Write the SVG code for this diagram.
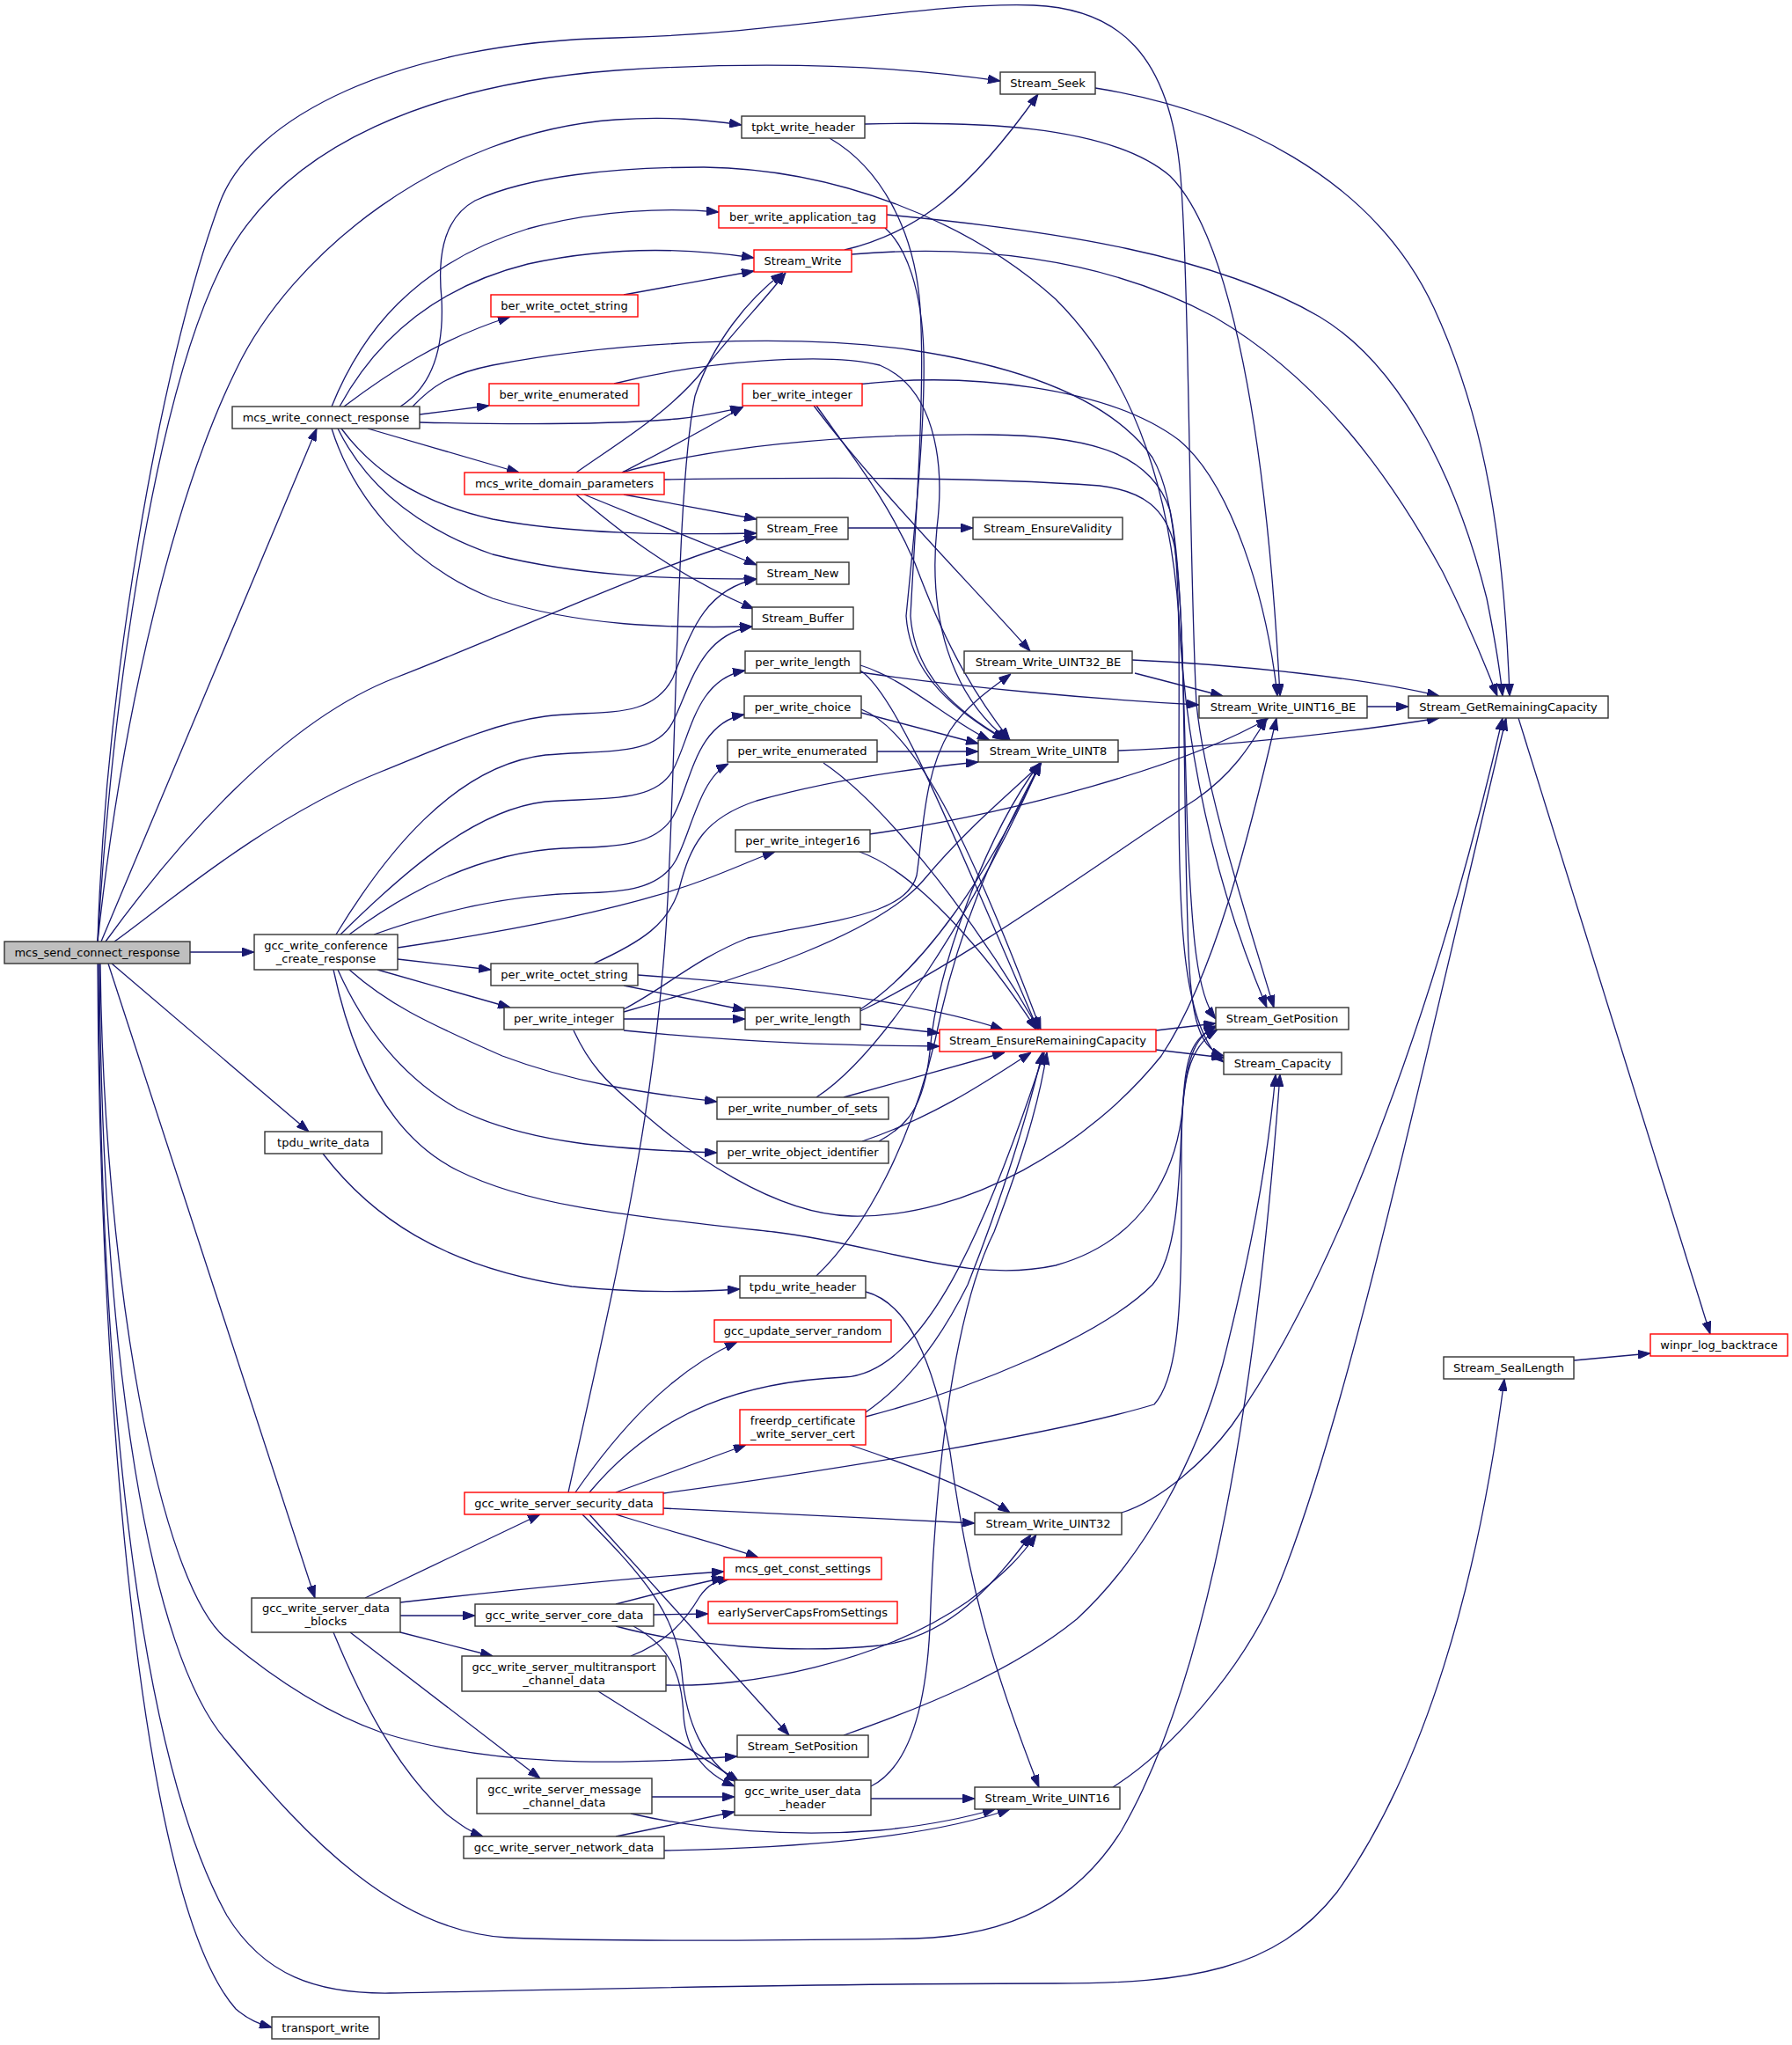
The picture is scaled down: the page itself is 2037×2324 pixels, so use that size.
<svg xmlns="http://www.w3.org/2000/svg" width="2037" height="2324" viewBox="0 0 2037 2324">
<style>
.node rect{fill:#ffffff;stroke:#333333;stroke-width:1.4}
.node.red rect{stroke:#ff0000}
.node.gray rect{fill:#bfbfbf}
.node text{font-family:"DejaVu Sans","Liberation Sans",sans-serif;font-size:13px;text-anchor:middle;fill:#000000}
.edges path{fill:none;stroke:#191970;stroke-width:1.3;marker-end:url(#ah)}
</style>
<defs>
<marker id="ah" viewBox="0 0 14 10" refX="14" refY="5" markerWidth="14" markerHeight="10" markerUnits="userSpaceOnUse" orient="auto"><path d="M0,0 L14,5 L0,10 z" fill="#191970" stroke="#191970" stroke-width="1"/></marker>
</defs>
<rect x="0" y="0" width="2037" height="2324" fill="#ffffff"/>
<g id="connectors" class="edges">
<path d="M115,1070 L360,487"/>
<path d="M216,1082 L289,1082"/>
<path d="M127,1095 L351,1286"/>
<path d="M123,1095 L358,1816"/>
<path d="M111,1095 C112,1500 150,2150 268,2283 C283,2296 295,2300 309,2304"/>
<path d="M111,1070 C130,760 180,450 250,306 C320,160 500,95 700,80 C850,70 1000,72 1137,92"/>
<path d="M111,1070 C140,800 200,560 268,421 C330,290 500,150 700,136 C760,132 800,136 843,142"/>
<path d="M111,1070 C120,780 180,420 250,230 C285,135 450,48 700,43 C900,38 1050,2 1175,6 C1270,10 1330,60 1342,200 C1352,330 1352,650 1360,800 C1370,900 1420,1050 1448,1145"/>
<path d="M120,1070 C200,960 320,820 450,770 C580,720 750,640 860,610"/>
<path d="M130,1070 C180,1035 300,930 433,877 C500,850 560,822 620,814 C680,806 740,820 765,770 C785,720 800,670 860,658"/>
<path d="M114,1095 C118,1450 180,1800 258,1863 C320,1915 380,1950 434,1969 C560,2008 700,2006 838,1996"/>
<path d="M113,1095 C116,1550 170,1880 258,1979 C350,2090 450,2195 577,2202 C700,2207 900,2205 1040,2203 C1150,2200 1225,2160 1275,2080 C1350,1950 1420,1700 1455,1221"/>
<path d="M112,1095 C114,1600 160,2000 258,2177 C300,2245 360,2266 443,2265 C600,2262 900,2254 1200,2254 C1350,2254 1450,2240 1520,2150 C1620,2010 1680,1800 1710,1567"/>
<path d="M377,462 C410,380 470,300 600,260 C680,238 760,236 817,241"/>
<path d="M386,462 C420,400 480,330 600,300 C700,278 790,283 857,293"/>
<path d="M391,462 C440,425 500,385 580,360"/>
<path d="M455,462 C490,440 505,400 502,340 C498,300 500,250 540,228 C600,200 700,190 800,190 C950,192 1100,250 1200,340 C1290,430 1330,560 1340,700 C1350,900 1400,1050 1440,1145"/>
<path d="M469,462 C490,440 510,425 560,415 C700,388 900,378 1037,398 C1150,415 1260,450 1310,520 C1345,580 1340,700 1340,900 C1340,1050 1345,1170 1391,1207"/>
<path d="M477,471 L556,461"/>
<path d="M477,480 C600,483 700,482 770,476 C800,473 820,468 844,463"/>
<path d="M418,487 L590,537"/>
<path d="M388,487 C420,530 470,570 560,590 C650,607 760,608 860,606"/>
<path d="M384,487 C410,540 460,595 560,630 C660,655 760,658 860,658"/>
<path d="M377,487 C400,560 460,640 560,680 C660,712 760,714 855,712"/>
<path d="M655,537 C700,505 760,470 800,420 C840,370 870,340 893,310"/>
<path d="M707,537 C740,520 780,500 845,462"/>
<path d="M707,537 C800,510 950,492 1126,494 C1250,495 1310,520 1330,580 C1345,650 1345,800 1350,950 C1355,1060 1360,1130 1382,1158"/>
<path d="M755,545 C900,543 1100,541 1250,552 C1300,558 1325,578 1335,620 C1348,700 1345,900 1350,1050 C1352,1150 1360,1190 1391,1200"/>
<path d="M709,562 L860,590"/>
<path d="M664,562 L860,642"/>
<path d="M655,562 C700,600 760,650 857,692"/>
<path d="M983,141 C1100,138 1260,140 1330,200 C1400,270 1440,500 1455,791"/>
<path d="M943,157 C1000,190 1040,260 1046,350 C1052,450 1040,600 1035,700 C1040,770 1090,810 1144,841"/>
<path d="M1006,259 C1030,280 1048,330 1050,400 C1052,480 1040,600 1030,700 C1035,770 1090,810 1142,841"/>
<path d="M1008,244 C1200,262 1380,290 1500,360 C1600,420 1660,560 1690,680 C1700,730 1705,760 1708,791"/>
<path d="M968,289 C1100,278 1250,290 1380,360 C1500,430 1580,540 1640,650 C1670,710 1690,760 1702,791"/>
<path d="M960,284 C1040,265 1100,220 1180,107"/>
<path d="M1245,100 C1400,125 1560,200 1630,350 C1690,480 1710,620 1716,791"/>
<path d="M709,335 L857,308"/>
<path d="M698,436 C800,410 940,400 1000,415 C1060,440 1075,520 1065,600 C1055,700 1080,790 1146,841"/>
<path d="M928,461 C970,520 1010,570 1040,640 C1070,720 1100,780 1148,841"/>
<path d="M925,461 C1000,560 1100,660 1171,740"/>
<path d="M973,437 C1100,422 1260,440 1340,500 C1400,550 1440,680 1452,791"/>
<path d="M964,600 L1106,600"/>
<path d="M978,764 C1100,782 1250,795 1363,801"/>
<path d="M978,756 C1030,772 1080,820 1125,841"/>
<path d="M978,762 C1020,790 1080,940 1180,1170"/>
<path d="M1290,765 L1390,791"/>
<path d="M1287,750 C1400,755 1550,770 1636,791"/>
<path d="M979,810 L1112,845"/>
<path d="M979,806 C1040,830 1100,950 1183,1170"/>
<path d="M997,854 L1112,854"/>
<path d="M936,867 C1000,910 1100,1030 1181,1170"/>
<path d="M988,948 C1150,925 1350,870 1442,816"/>
<path d="M977,968 C1040,990 1120,1080 1178,1170"/>
<path d="M1554,803 L1601,803"/>
<path d="M1271,853 C1400,848 1550,830 1636,816"/>
<path d="M709,1120 L847,1148"/>
<path d="M725,1108 C900,1120 1050,1140 1140,1170"/>
<path d="M675,1095 C730,1070 760,1050 772,1010 C785,960 800,930 860,910 C950,885 1050,872 1112,866"/>
<path d="M709,1158 L847,1158"/>
<path d="M709,1171 C850,1185 950,1188 1068,1189"/>
<path d="M709,1147 C760,1120 790,1090 850,1066 C950,1045 1030,1040 1042,995 C1050,940 1050,880 1080,830 C1100,800 1130,780 1149,766"/>
<path d="M652,1171 C670,1210 690,1230 720,1255 C780,1310 880,1380 968,1382 C1100,1385 1240,1300 1320,1200 C1380,1110 1420,950 1451,816"/>
<path d="M709,1150 C850,1110 1000,1060 1050,1000 C1100,940 1150,900 1184,867"/>
<path d="M978,1147 C1050,1100 1120,1000 1183,867"/>
<path d="M978,1149 C1100,1090 1250,980 1360,908 C1400,880 1420,850 1440,816"/>
<path d="M978,1164 L1068,1174"/>
<path d="M928,1247 C1000,1200 1100,1050 1183,867"/>
<path d="M959,1247 L1142,1196"/>
<path d="M999,1297 C1030,1280 1050,1260 1057,1195 C1065,1100 1120,950 1182,867"/>
<path d="M980,1297 C1060,1270 1120,1230 1172,1196"/>
<path d="M1314,1171 L1382,1163"/>
<path d="M1314,1193 L1391,1202"/>
<path d="M928,1450 C980,1400 1040,1300 1070,1150 C1100,1020 1150,930 1183,867"/>
<path d="M984,1468 C1030,1480 1060,1540 1080,1650 C1100,1800 1130,1900 1181,2031"/>
<path d="M367,1311 C420,1380 500,1440 650,1462 C730,1470 790,1468 841,1465"/>
<path d="M646,1696 C700,1450 750,1250 760,1000 C770,800 770,550 790,450 C810,390 850,340 890,310"/>
<path d="M654,1696 C700,1630 760,1560 838,1525"/>
<path d="M700,1696 L848,1642"/>
<path d="M670,1696 C750,1600 850,1570 960,1565 C1050,1560 1120,1400 1187,1196"/>
<path d="M754,1697 C950,1670 1200,1630 1312,1596 C1345,1560 1343,1450 1343,1306 C1343,1230 1350,1190 1384,1170"/>
<path d="M754,1714 L1108,1731"/>
<path d="M700,1721 C760,1740 820,1755 862,1770"/>
<path d="M670,1721 L897,1972"/>
<path d="M662,1721 C720,1780 770,1830 775,1900 C780,1960 800,2000 838,2025"/>
<path d="M984,1605 C1020,1580 1060,1540 1100,1460 C1140,1360 1170,1260 1185,1196"/>
<path d="M984,1610 C1100,1580 1250,1520 1310,1460 C1345,1420 1340,1300 1345,1250 C1350,1200 1360,1175 1384,1166"/>
<path d="M966,1642 C1050,1670 1120,1700 1148,1719"/>
<path d="M1275,1719 C1320,1705 1370,1660 1400,1620 C1500,1480 1620,1200 1708,816"/>
<path d="M1265,2031 C1330,1990 1410,1900 1450,1810 C1530,1620 1620,1200 1712,816"/>
<path d="M959,1972 C1050,1940 1150,1900 1224,1840 C1300,1770 1360,1660 1390,1550 C1420,1430 1440,1330 1450,1221"/>
<path d="M415,1816 L614,1721"/>
<path d="M455,1821 C600,1805 720,1793 823,1786"/>
<path d="M455,1836 L540,1836"/>
<path d="M455,1855 L560,1882"/>
<path d="M398,1855 L614,2021"/>
<path d="M379,1855 C410,1930 450,2010 508,2062 C525,2075 535,2082 549,2087"/>
<path d="M700,1823 C750,1810 790,1800 823,1793"/>
<path d="M743,1835 L805,1834"/>
<path d="M720,1848 C760,1870 775,1900 777,1950 C780,1990 800,2015 835,2030"/>
<path d="M700,1848 C780,1870 900,1880 1000,1870 C1080,1860 1130,1800 1172,1744"/>
<path d="M717,1882 C760,1865 780,1840 795,1815 C805,1800 815,1796 830,1794"/>
<path d="M757,1915 C850,1918 1000,1890 1100,1820 C1140,1790 1160,1770 1178,1744"/>
<path d="M680,1922 C740,1960 790,1990 840,2025"/>
<path d="M741,2042 L835,2042"/>
<path d="M717,2061 C800,2080 900,2088 1000,2080 C1060,2074 1100,2065 1131,2056"/>
<path d="M700,2087 L835,2059"/>
<path d="M755,2103 C900,2100 1050,2090 1148,2056"/>
<path d="M990,2044 L1108,2044"/>
<path d="M990,2030 C1030,2010 1052,1950 1057,1850 C1062,1700 1080,1500 1130,1400 C1160,1320 1180,1260 1190,1196"/>
<path d="M1789,1546 L1876,1538"/>
<path d="M1726,816 L1944,1516"/>
<path d="M382,1062 C435,975 515,870 620,858 C690,852 745,860 765,820 C785,780 795,722 855,712"/>
<path d="M387,1062 C460,990 540,920 620,911 C690,906 745,912 765,875 C785,838 790,772 847,762"/>
<path d="M397,1062 C480,1000 560,968 640,964 C700,962 745,962 765,928 C785,893 790,822 846,812"/>
<path d="M425,1062 C500,1035 580,1017 660,1015 C710,1014 750,1010 768,978 C785,948 795,885 828,868"/>
<path d="M452,1077 C600,1055 720,1030 800,1000 C840,985 860,975 881,968"/>
<path d="M452,1090 L558,1102"/>
<path d="M429,1102 L580,1145"/>
<path d="M397,1102 C440,1140 480,1160 571,1200 C650,1230 730,1242 815,1252"/>
<path d="M384,1102 C410,1160 450,1220 520,1260 C600,1300 700,1306 815,1310"/>
<path d="M379,1102 C400,1200 440,1290 520,1330 C600,1370 700,1380 880,1400 C1000,1414 1100,1460 1200,1438 C1300,1410 1340,1330 1345,1250 C1348,1200 1355,1180 1382,1166"/>
</g>
<g id="n_mcs_send_connect_response" class="node gray"><rect x="5" y="1070" width="211" height="25"/><text x="110.5" y="1087">mcs_send_connect_response</text></g>
<g id="n_mcs_write_connect_response" class="node"><rect x="264" y="462" width="213" height="25"/><text x="370.5" y="479">mcs_write_connect_response</text></g>
<g id="n_gcc_write_conference_create_response" class="node"><rect x="289" y="1062" width="163" height="40"/><text x="370.5" y="1078.5">gcc_write_conference</text><text x="370.5" y="1093.5">_create_response</text></g>
<g id="n_tpdu_write_data" class="node"><rect x="301" y="1286" width="133" height="25"/><text x="367.5" y="1303">tpdu_write_data</text></g>
<g id="n_gcc_write_server_data_blocks" class="node"><rect x="286" y="1816" width="169" height="39"/><text x="370.5" y="1832">gcc_write_server_data</text><text x="370.5" y="1847">_blocks</text></g>
<g id="n_transport_write" class="node"><rect x="309" y="2292" width="122" height="25"/><text x="370" y="2309">transport_write</text></g>
<g id="n_Stream_Seek" class="node"><rect x="1137" y="82" width="108" height="25"/><text x="1191" y="99">Stream_Seek</text></g>
<g id="n_tpkt_write_header" class="node"><rect x="843" y="132" width="140" height="25"/><text x="913" y="149">tpkt_write_header</text></g>
<g id="n_ber_write_application_tag" class="node red"><rect x="817" y="234" width="191" height="25"/><text x="912.5" y="251">ber_write_application_tag</text></g>
<g id="n_Stream_Write" class="node red"><rect x="857" y="284" width="111" height="25"/><text x="912.5" y="301">Stream_Write</text></g>
<g id="n_ber_write_octet_string" class="node red"><rect x="558" y="335" width="167" height="25"/><text x="641.5" y="352">ber_write_octet_string</text></g>
<g id="n_ber_write_enumerated" class="node red"><rect x="556" y="436" width="170" height="25"/><text x="641" y="453">ber_write_enumerated</text></g>
<g id="n_ber_write_integer" class="node red"><rect x="844" y="436" width="136" height="25"/><text x="912" y="453">ber_write_integer</text></g>
<g id="n_mcs_write_domain_parameters" class="node red"><rect x="528" y="537" width="227" height="25"/><text x="641.5" y="554">mcs_write_domain_parameters</text></g>
<g id="n_Stream_Free" class="node"><rect x="860" y="588" width="104" height="25"/><text x="912" y="605">Stream_Free</text></g>
<g id="n_Stream_EnsureValidity" class="node"><rect x="1106" y="588" width="170" height="25"/><text x="1191" y="605">Stream_EnsureValidity</text></g>
<g id="n_Stream_New" class="node"><rect x="860" y="639" width="105" height="25"/><text x="912.5" y="656">Stream_New</text></g>
<g id="n_Stream_Buffer" class="node"><rect x="855" y="690" width="115" height="25"/><text x="912.5" y="707">Stream_Buffer</text></g>
<g id="n_per_write_length_1" class="node"><rect x="847" y="740" width="131" height="25"/><text x="912.5" y="757">per_write_length</text></g>
<g id="n_Stream_Write_UINT32_BE" class="node"><rect x="1096" y="740" width="191" height="25"/><text x="1191.5" y="757">Stream_Write_UINT32_BE</text></g>
<g id="n_per_write_choice" class="node"><rect x="846" y="791" width="133" height="25"/><text x="912.5" y="808">per_write_choice</text></g>
<g id="n_Stream_Write_UINT16_BE" class="node"><rect x="1363" y="791" width="191" height="25"/><text x="1458.5" y="808">Stream_Write_UINT16_BE</text></g>
<g id="n_Stream_GetRemainingCapacity" class="node"><rect x="1601" y="791" width="227" height="25"/><text x="1714.5" y="808">Stream_GetRemainingCapacity</text></g>
<g id="n_per_write_enumerated" class="node"><rect x="827" y="841" width="170" height="25"/><text x="912" y="858">per_write_enumerated</text></g>
<g id="n_Stream_Write_UINT8" class="node"><rect x="1112" y="841" width="159" height="25"/><text x="1191.5" y="858">Stream_Write_UINT8</text></g>
<g id="n_per_write_integer16" class="node"><rect x="836" y="943" width="153" height="25"/><text x="912.5" y="960">per_write_integer16</text></g>
<g id="n_per_write_octet_string" class="node"><rect x="558" y="1095" width="167" height="25"/><text x="641.5" y="1112">per_write_octet_string</text></g>
<g id="n_per_write_integer" class="node"><rect x="573" y="1145" width="136" height="25"/><text x="641" y="1162">per_write_integer</text></g>
<g id="n_per_write_length_2" class="node"><rect x="847" y="1145" width="131" height="25"/><text x="912.5" y="1162">per_write_length</text></g>
<g id="n_Stream_EnsureRemainingCapacity" class="node red"><rect x="1068" y="1170" width="246" height="25"/><text x="1191" y="1187">Stream_EnsureRemainingCapacity</text></g>
<g id="n_Stream_GetPosition" class="node"><rect x="1382" y="1145" width="151" height="25"/><text x="1457.5" y="1162">Stream_GetPosition</text></g>
<g id="n_Stream_Capacity" class="node"><rect x="1391" y="1196" width="134" height="25"/><text x="1458" y="1213">Stream_Capacity</text></g>
<g id="n_per_write_number_of_sets" class="node"><rect x="815" y="1247" width="195" height="25"/><text x="912.5" y="1264">per_write_number_of_sets</text></g>
<g id="n_per_write_object_identifier" class="node"><rect x="815" y="1297" width="195" height="25"/><text x="912.5" y="1314">per_write_object_identifier</text></g>
<g id="n_tpdu_write_header" class="node"><rect x="841" y="1450" width="143" height="25"/><text x="912.5" y="1467">tpdu_write_header</text></g>
<g id="n_gcc_update_server_random" class="node red"><rect x="812" y="1500" width="201" height="25"/><text x="912.5" y="1517">gcc_update_server_random</text></g>
<g id="n_freerdp_certificate_write_server_cert" class="node red"><rect x="841" y="1602" width="143" height="40"/><text x="912.5" y="1618.5">freerdp_certificate</text><text x="912.5" y="1633.5">_write_server_cert</text></g>
<g id="n_gcc_write_server_security_data" class="node red"><rect x="528" y="1696" width="226" height="25"/><text x="641" y="1713">gcc_write_server_security_data</text></g>
<g id="n_Stream_Write_UINT32" class="node"><rect x="1108" y="1719" width="167" height="25"/><text x="1191.5" y="1736">Stream_Write_UINT32</text></g>
<g id="n_mcs_get_const_settings" class="node red"><rect x="823" y="1770" width="179" height="25"/><text x="912.5" y="1787">mcs_get_const_settings</text></g>
<g id="n_earlyServerCapsFromSettings" class="node red"><rect x="805" y="1820" width="215" height="25"/><text x="912.5" y="1837">earlyServerCapsFromSettings</text></g>
<g id="n_gcc_write_server_core_data" class="node"><rect x="540" y="1823" width="203" height="25"/><text x="641.5" y="1840">gcc_write_server_core_data</text></g>
<g id="n_gcc_write_server_multitransport_channel_data" class="node"><rect x="525" y="1882" width="232" height="40"/><text x="641" y="1898.5">gcc_write_server_multitransport</text><text x="641" y="1913.5">_channel_data</text></g>
<g id="n_Stream_SetPosition" class="node"><rect x="838" y="1972" width="149" height="25"/><text x="912.5" y="1989">Stream_SetPosition</text></g>
<g id="n_gcc_write_server_message_channel_data" class="node"><rect x="542" y="2021" width="199" height="40"/><text x="641.5" y="2037.5">gcc_write_server_message</text><text x="641.5" y="2052.5">_channel_data</text></g>
<g id="n_gcc_write_user_data_header" class="node"><rect x="835" y="2023" width="155" height="40"/><text x="912.5" y="2039.5">gcc_write_user_data</text><text x="912.5" y="2054.5">_header</text></g>
<g id="n_Stream_Write_UINT16" class="node"><rect x="1108" y="2031" width="165" height="25"/><text x="1190.5" y="2048">Stream_Write_UINT16</text></g>
<g id="n_gcc_write_server_network_data" class="node"><rect x="527" y="2087" width="228" height="25"/><text x="641" y="2104">gcc_write_server_network_data</text></g>
<g id="n_Stream_SealLength" class="node"><rect x="1641" y="1542" width="148" height="25"/><text x="1715" y="1559">Stream_SealLength</text></g>
<g id="n_winpr_log_backtrace" class="node red"><rect x="1876" y="1516" width="156" height="25"/><text x="1954" y="1533">winpr_log_backtrace</text></g>
</svg>
